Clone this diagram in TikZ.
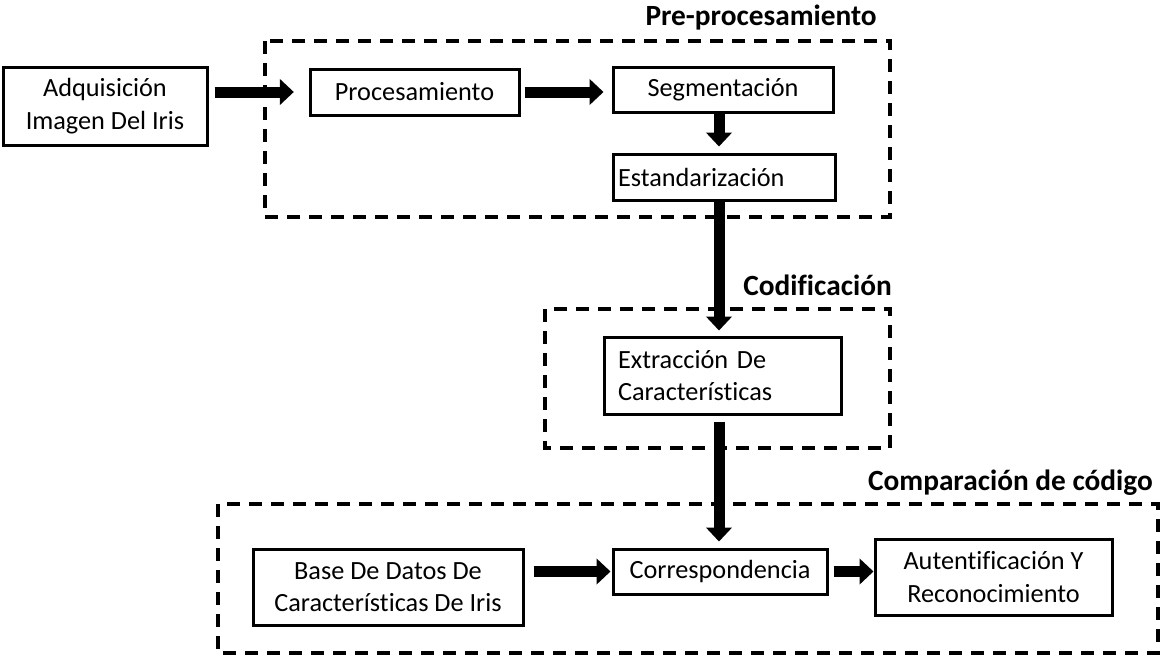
\documentclass[tikz,border=0pt]{standalone}
\usepackage{fontspec}
\setmainfont{Carlito}[Ligatures=CommonOff]
\usepackage{tikz}
\usetikzlibrary{arrows.meta}

\begin{document}
\begin{tikzpicture}%
	[x=0.75pt, y=-0.75pt,
	block/.style={draw=black, line width=2.25pt, inner sep=0pt, align=center,
		font=\fontsize{19.7}{24.5}\selectfont},
	group/.style={draw=black, line width=3.25pt, dash pattern=on 10pt off 6.5pt},
	title/.style={font=\fontsize{22}{26}\selectfont\bfseries, inner sep=0pt, anchor=base east},
	flow/.style={line width=8.25pt, -{Triangle[width=19pt,length=10.5pt]}}]
%
%% Bounding box of the picture
\useasboundingbox (0,0) rectangle (1163,657);
%%
%% Dashed groups and their titles
%%
\draw[group] (265,41) rectangle (890,217);
\draw[group] (545,309) rectangle (890,448);
\draw[group] (218,504) rectangle (1158,653);
\node[title] (tpre)  at (877,25)  {Pre-procesamiento};
\node[title] (tcod)  at (892,295) {Codificación};
\node[title] (tcomp) at (1153,490) {Comparación de código};
%%
%% Blocks
%%
\node[block, minimum width=153pt, minimum height=58.5pt] (adq) at (105,106)
	{Adquisición\\Imagen Del Iris};
\node[block, minimum width=156.75pt, minimum height=34.5pt] (proc) at (414.5,92)
	{Procesamiento};
\node[block, minimum width=165pt, minimum height=33.75pt] (seg) at (723,89.5)
	{Segmentación};
\node[block, align=left, text width=159pt, inner xsep=3.75pt, minimum height=34.5pt] (est) at (724,177)
	{Estandarización};
\node[block, align=left, text width=156.75pt, inner xsep=10.5pt, minimum height=57.75pt] (ext) at (722.5,375.5)
	{Extracción De\\Características};
\node[block, minimum width=202.5pt, minimum height=57pt] (base) at (388,587)
	{Base De Datos De\\Características De Iris};
\node[block, minimum width=160.5pt, minimum height=33.75pt] (corr) at (720,571.5)
	{Correspondencia};
\node[block, minimum width=177.75pt, minimum height=57pt] (aut) at (993.5,577)
	{Autentificación Y\\Reconocimiento};
%%
%% Arrows
%%
\coordinate (down) at (719,0);
\draw[flow, shorten <=4.5pt, shorten >=11pt] (adq.east |- proc) -- (proc.west);
\draw[flow, shorten <=3pt, shorten >=6pt] (proc.east) -- (seg.west |- proc.east);
\draw[flow, shorten >=4.5pt] (down |- seg.south) -- (down |- est.north);
\draw[flow, shorten >=3.75pt] (down |- est.south) -- (down |- ext.north);
\draw[flow, shorten <=4.5pt, shorten >=4.5pt] (down |- ext.south) -- (down |- corr.north);
\draw[flow, shorten <=6.75pt, shorten >=0.75pt] (base.east |- corr) -- (corr.west);
\draw[flow, shorten <=3.75pt] (corr.east) -- (aut.west |- corr);
%%
\end{tikzpicture}
\end{document}
